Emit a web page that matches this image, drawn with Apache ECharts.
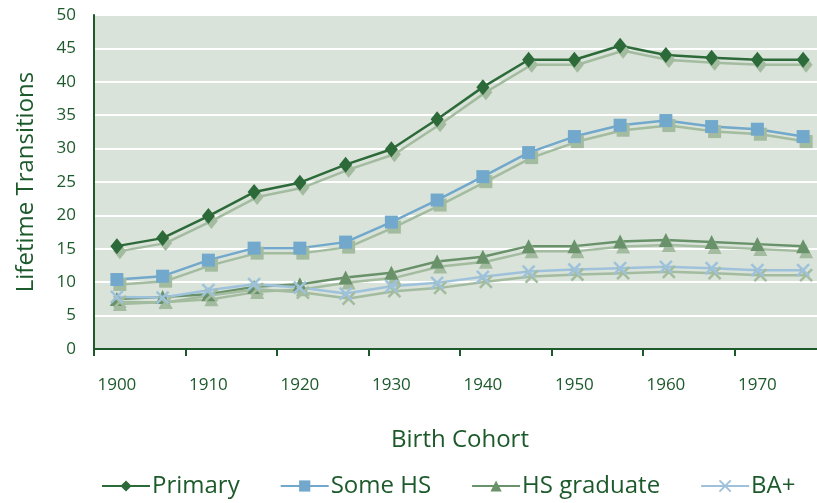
<!DOCTYPE html>
<html>
<head>
<meta charset="utf-8">
<script src="https://cdn.jsdelivr.net/npm/echarts@6/dist/echarts.min.js"></script>
<style>
  html, body { margin: 0; padding: 0; background: #fff; }
  #chart { width: 817px; height: 503px; }
</style>
</head>
<body>
<div id="chart"></div>
<script>
// data
var cohorts = ['1900', '1905', '1910', '1915', '1920', '1925', '1930', '1935',
  '1940', '1945', '1950', '1955', '1960', '1965', '1970', '1975']
var primary = [15.4, 16.6, 19.9, 23.5, 24.9, 27.6, 29.9, 34.4, 39.2, 43.3, 43.3, 45.4, 44.0, 43.6, 43.3, 43.3]
var someHS = [10.4, 10.9, 13.3, 15.1, 15.1, 16.0, 19.0, 22.3, 25.8, 29.4, 31.8, 33.5, 34.2, 33.3, 32.9, 31.8]
var hsGrad = [7.5, 7.8, 8.2, 9.3, 9.7, 10.7, 11.4, 13.1, 13.8, 15.4, 15.4, 16.1, 16.3, 16.0, 15.7, 15.4]
var baPlus = [7.8, 7.7, 8.8, 9.7, 9.2, 8.3, 9.4, 9.9, 10.8, 11.6, 11.9, 12.1, 12.3, 12.1, 11.8, 11.8]

var textColor = '#1d5a2b'
var font = 'Open Sans'
var shadowColor = '#a3bb9f'
var crossPath = 'path://M0,0 L10,10 M10,0 L0,10'

// 线条 + 阴影
function makeSeries (name, data, color, symbol, size) {
  var isCross = symbol === crossPath
  return {
    name: name,
    type: 'line',
    data: data,
    symbol: symbol,
    symbolSize: size,
    lineStyle: {
      color: color,
      width: 2.5,
      shadowColor: shadowColor,
      shadowBlur: 0,
      shadowOffsetX: 3,
      shadowOffsetY: 5
    },
    itemStyle: {
      color: color,
      borderColor: color,
      borderWidth: isCross ? 2.5 : 0,
      shadowColor: shadowColor,
      shadowBlur: 0,
      shadowOffsetX: 3,
      shadowOffsetY: 5
    },
    emphasis: { disabled: true },
    animation: false
  }
}

var myChart = echarts.init(document.getElementById('chart'))
var option = {
  backgroundColor: '#ffffff',
  textStyle: { fontFamily: font },
  grid: {
    left: 94,
    top: 15,
    right: -9,
    bottom: 154,
    outerBoundsMode: 'none',
    containLabel: false,
    show: true,
    backgroundColor: '#d9e3d9',
    borderWidth: 0
  },
  legend: {
    bottom: 0,
    left: 96,
    itemWidth: 48,
    itemHeight: 14,
    itemGap: 40,
    textStyle: { color: textColor, fontSize: 24, fontFamily: font, padding: [0, 0, 0, -3] },
    data: ['Primary', 'Some HS', 'HS graduate', 'BA+']
  },
  xAxis: {
    type: 'category',
    data: cohorts,
    boundaryGap: true,
    name: 'Birth Cohort',
    nameLocation: 'middle',
    nameGap: 79,
    nameTextStyle: { color: textColor, fontSize: 24, fontFamily: font },
    axisLine: { lineStyle: { color: '#1d5a2b', width: 2 } },
    axisTick: { show: true, length: 7, lineStyle: { color: '#1d5a2b', width: 2 } },
    axisLabel: {
      color: textColor,
      fontSize: 17,
      margin: 28,
      interval: 1
    },
    splitLine: { show: false }
  },
  yAxis: {
    type: 'value',
    min: 0,
    max: 50,
    interval: 5,
    name: 'Lifetime Transitions',
    nameLocation: 'middle',
    nameGap: 56,
    nameTextStyle: { color: textColor, fontSize: 24, fontFamily: font },
    axisLine: { show: true, lineStyle: { color: '#1d5a2b', width: 2 } },
    axisTick: { show: false },
    axisLabel: { color: textColor, fontSize: 17, margin: 18 },
    splitLine: { lineStyle: { color: '#ffffff', width: 2 } }
  },
  series: [
    makeSeries('Primary', primary, '#2d6a39', 'diamond', [13, 16]),
    makeSeries('Some HS', someHS, '#71a8cb', 'rect', 13),
    makeSeries('HS graduate', hsGrad, '#69926a', 'triangle', 14),
    makeSeries('BA+', baPlus, '#9fc2dc', crossPath, 12)
  ]
}
myChart.setOption(option)
</script>
</body>
</html>
